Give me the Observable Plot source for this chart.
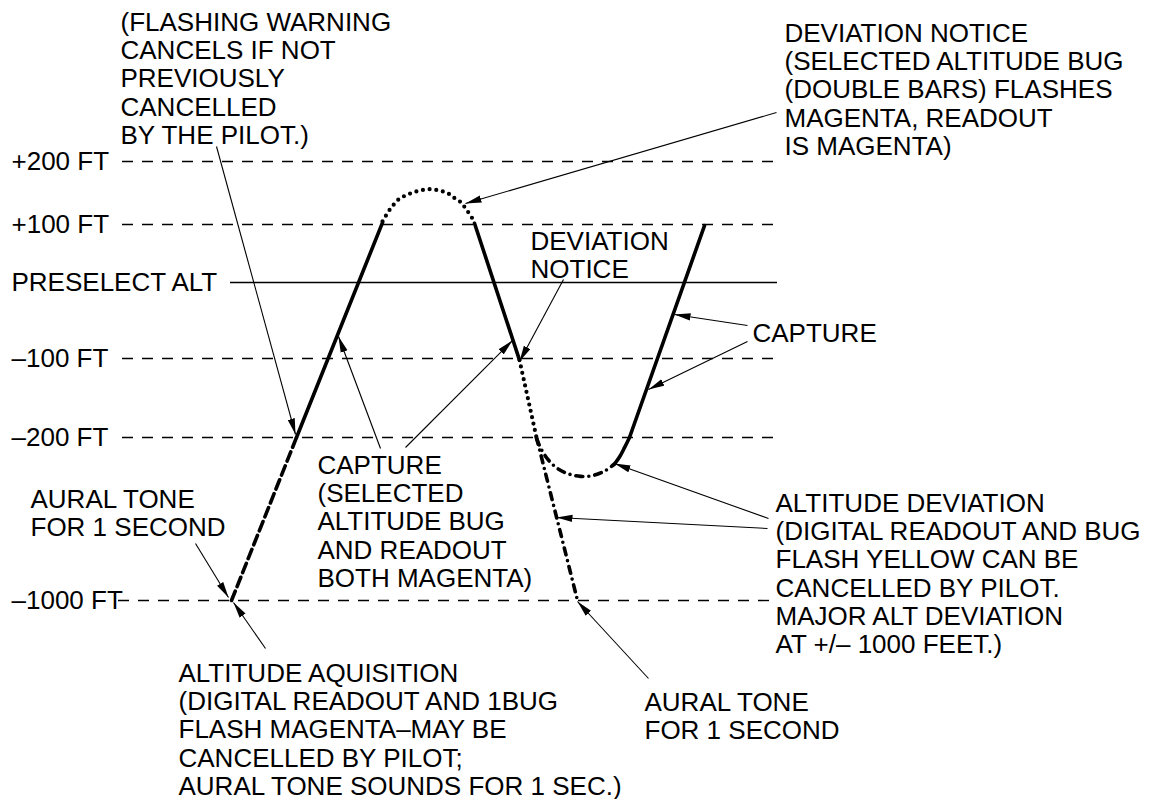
<!DOCTYPE html>
<html><head><meta charset="utf-8">
<script src="https://cdn.jsdelivr.net/npm/d3@7"></script>
<script src="https://cdn.jsdelivr.net/npm/@observablehq/plot@0.6"></script>
<style>
body{margin:0;background:#fff;}
#chart{position:relative;width:1164px;height:799px;background:#fff;}
</style></head><body><div id="chart"></div>
<script>
// ---------- DATA ----------
// Altitude reference levels (feet relative to the preselected altitude)
const levelLabels = ["+200 FT", "+100 FT", "PRESELECT ALT", "–100 FT", "–200 FT", "–1000 FT"];
const levelAltitudes = [200, 100, 0, -100, -200, -1000];

// Flight path pieces as [time, altitude ft]
const acquisitionPath = [[231, -1000], [296, -200]];                 // dashed
const captureClimbPath = [[296, -200], [382, 103]];                  // solid
const overshootPath = [[382, 105], [385, 113], [389, 123], [394, 133], [399, 141], [405, 146], [411, 150],
  [417, 153], [423, 155], [429, 156], [435, 155], [441, 153], [447, 150], [452, 144], [457, 139],
  [462, 133], [465, 125], [469, 117], [472, 109], [473, 105]];       // dotted
const captureDescentPath = [[474, 102], [519, -102]];                // solid
const deviationPath = [[519, -102], [536, -200]];                    // dotted
const majorDeviationPath = [[536, -200], [577, -1000]];              // dash-dot
const deviationDipPath = [[536, -205], [541, -260], [547, -305], [555, -345], [567, -377],
  [580, -391], [593, -386], [605, -362], [614, -330]];               // dash-dot
const recoveryBendPath = [[614, -330], [619, -296], [624, -250], [629, -200]]; // solid
const recoveryClimbPath = [[629, -200], [704, 98]];                  // solid

// Annotation texts
const noteFlashing = ["(FLASHING WARNING", "CANCELS IF NOT", "PREVIOUSLY", "CANCELLED", "BY THE PILOT.)"];
const noteDeviationTop = ["DEVIATION NOTICE", "(SELECTED ALTITUDE BUG", "(DOUBLE BARS) FLASHES", "MAGENTA, READOUT", "IS MAGENTA)"];
const noteDeviationMid = ["DEVIATION", "NOTICE"];
const noteCaptureRight = ["CAPTURE"];
const noteCaptureLeft = ["CAPTURE", "(SELECTED", "ALTITUDE BUG", "AND READOUT", "BOTH MAGENTA)"];
const noteToneLeft = ["AURAL TONE", "FOR 1 SECOND"];
const noteAltDeviation = ["ALTITUDE DEVIATION", "(DIGITAL READOUT AND BUG", "FLASH YELLOW CAN BE", "CANCELLED BY PILOT.", "MAJOR ALT DEVIATION", "AT +/– 1000 FEET.)"];
const noteAcquisition = ["ALTITUDE AQUISITION", "(DIGITAL READOUT AND 1BUG", "FLASH MAGENTA–MAY BE", "CANCELLED BY PILOT;", "AURAL TONE SOUNDS FOR 1 SEC.)"];
const noteToneRight = ["AURAL TONE", "FOR 1 SECOND"];

// ---------- LAYOUT ----------
const W = 1164, H = 799;
const FONT = '"Liberation Sans", Arial, Helvetica, sans-serif';
const FS = 26, LH = 28.4;
const levels = levelLabels.map((label, i) => ({label, alt: levelAltitudes[i]}));
const pts = a => a.map(([t, alt]) => ({t, alt}));
const ink = "#000";

// vertical placement of each reference level in the drawing (non-uniform spacing)
const levelRows = [161, 224, 282, 358, 437, 600];
const altToRow = d3.scaleLinear().domain(levelAltitudes).range(levelRows);

const thick = 3.6;
const main = Plot.plot({
  width: W, height: H, margin: 0,
  x: {domain: [0, W], range: [0, W], axis: null},
  y: {transform: altToRow, domain: [0, H], range: [0, H], axis: null},
  style: {background: "none", position: "absolute", left: "0px", top: "0px", fontFamily: FONT, overflow: "visible"},
  marks: [
    Plot.ruleY(levels.filter(d => d.alt !== 0), {y: "alt", x1: d => d.alt === -1000 ? 118 : 122, x2: d => d.alt === -1000 ? 776 : 780,
      stroke: ink, strokeWidth: 1.4, strokeDasharray: "11,9"}),
    Plot.ruleY(levels.filter(d => d.alt === 0), {y: "alt", x1: 230, x2: 777, stroke: ink, strokeWidth: 1.4}),
    Plot.text(levels, {x: 11, y: "alt", text: "label", textAnchor: "start", fontSize: FS, fill: ink}),
    Plot.line(pts(acquisitionPath), {x: "t", y: "alt", stroke: ink, strokeWidth: thick, strokeDasharray: "10,5"}),
    Plot.line(pts(captureClimbPath), {x: "t", y: "alt", stroke: ink, strokeWidth: thick}),
    Plot.line(pts(overshootPath), {x: "t", y: "alt", curve: "catmull-rom", stroke: ink, strokeWidth: 4.2, strokeDasharray: "0,6.7", strokeLinecap: "round"}),
    Plot.line(pts(captureDescentPath), {x: "t", y: "alt", stroke: ink, strokeWidth: thick}),
    Plot.line(pts(deviationPath), {x: "t", y: "alt", stroke: ink, strokeWidth: 4.2, strokeDasharray: "0,6.5", strokeLinecap: "round"}),
    Plot.line(pts(majorDeviationPath), {x: "t", y: "alt", stroke: ink, strokeWidth: thick, strokeDasharray: "7,6,0,6", strokeLinecap: "round"}),
    Plot.line(pts(deviationDipPath), {x: "t", y: "alt", curve: "catmull-rom", stroke: ink, strokeWidth: thick, strokeDasharray: "7,6,0,6", strokeLinecap: "round"}),
    Plot.line(pts(recoveryBendPath), {x: "t", y: "alt", curve: "catmull-rom", stroke: ink, strokeWidth: thick, strokeLinecap: "round"}),
    Plot.line(pts(recoveryClimbPath), {x: "t", y: "alt", stroke: ink, strokeWidth: thick, strokeLinecap: "round"})
  ]
});

// annotation layer (pixel layout)
const notes = [
  {lines: noteFlashing, x: 120, base: 30},
  {lines: noteDeviationTop, x: 784, base: 41},
  {lines: noteDeviationMid, x: 530, base: 249},
  {lines: noteCaptureRight, x: 752, base: 341},
  {lines: noteCaptureLeft, x: 317, base: 473},
  {lines: noteToneLeft, x: 30, base: 507},
  {lines: noteAltDeviation, x: 775, base: 511},
  {lines: noteAcquisition, x: 178, base: 681},
  {lines: noteToneRight, x: 644, base: 710}
].map(d => ({text: d.lines.join("\n"), x: d.x, y: d.base - 0.71 * LH}));

const leaders = [
  [216, 146, 295, 434], [776, 112, 465, 203], [563, 279, 519, 361],
  [747, 325, 674, 314], [747, 341, 648, 389],
  [380, 448, 338, 336], [405, 447, 512, 340],
  [195, 543, 228, 597], [265, 648, 233, 602],
  [768, 518, 614, 463], [767, 528, 556, 517],
  [648, 678, 577, 601]
].map(([x1, y1, x2, y2]) => ({x1, y1, x2, y2}));

const ann = Plot.plot({
  width: W, height: H, margin: 0,
  x: {type: "identity", axis: null}, y: {type: "identity", axis: null},
  style: {background: "none", position: "absolute", left: "0px", top: "0px", fontFamily: FONT, overflow: "visible"},
  marks: [
    Plot.link(leaders, {x1: "x1", y1: "y1", x2: "x2", y2: "y2", stroke: ink, strokeWidth: 1.1, markerEnd: "arrow"}),
    Plot.text(notes, {x: "x", y: "y", text: "text", textAnchor: "start", lineAnchor: "top", lineHeight: LH / FS, fontSize: FS, fill: ink})
  ]
});
d3.select(ann).selectAll("marker").each(function () {
  const m = d3.select(this);
  m.attr("viewBox", "-16 -4 16 8").attr("markerWidth", 16).attr("markerHeight", 8)
   .attr("markerUnits", "userSpaceOnUse").attr("refX", 0).attr("refY", 0)
   .attr("fill", ink).attr("stroke", "none");
  m.selectAll("*").remove();
  m.append("path").attr("d", "M0,0L-16,-3.6L-16,3.6Z");
});

const chart = document.getElementById("chart");
chart.appendChild(main);
chart.appendChild(ann);
</script></body></html>
